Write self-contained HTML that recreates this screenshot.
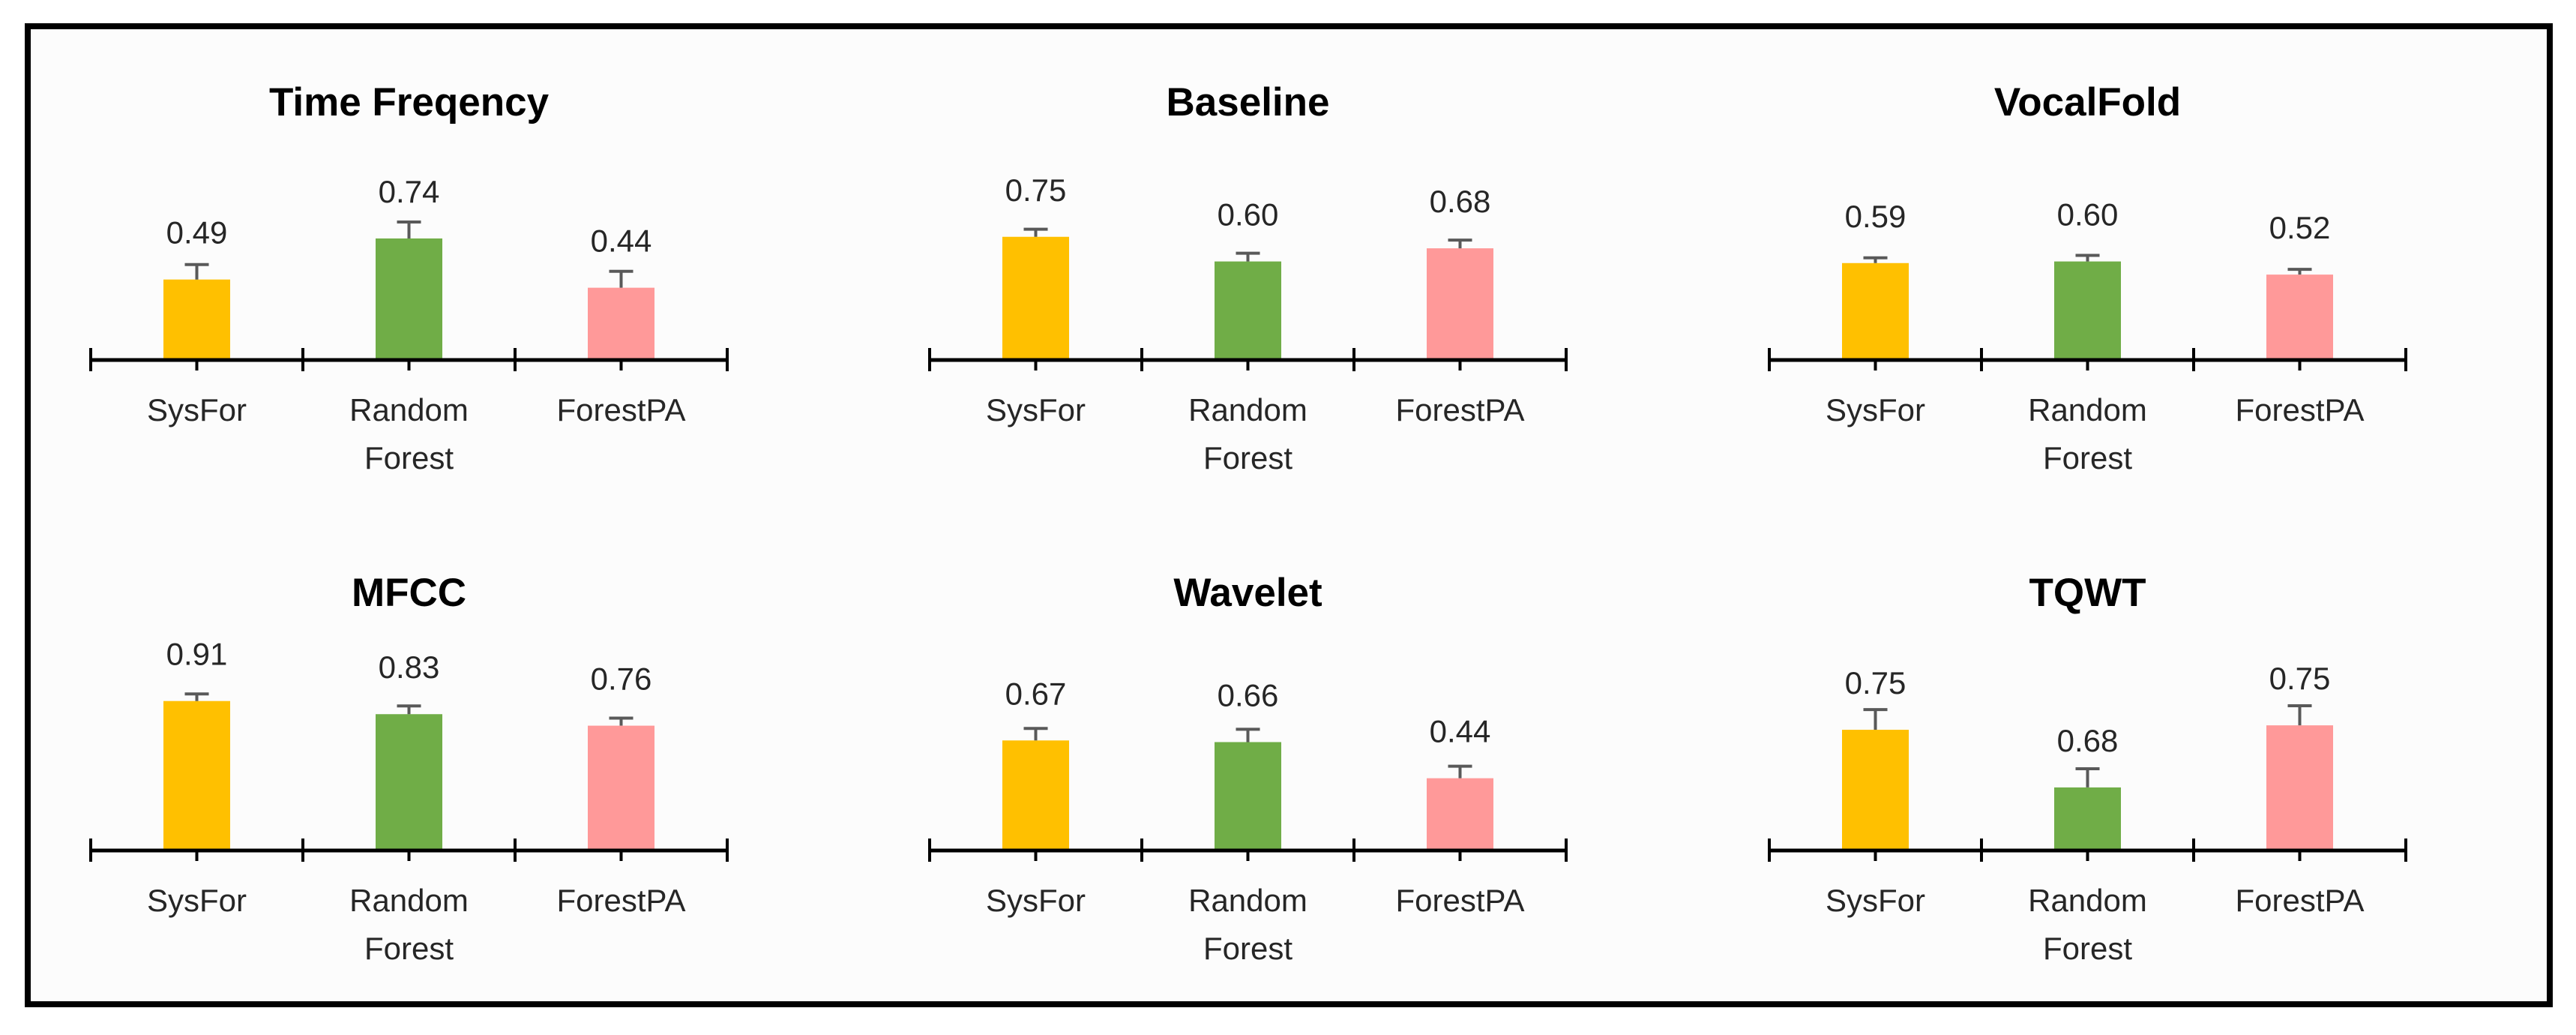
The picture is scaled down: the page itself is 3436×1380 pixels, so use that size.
<!DOCTYPE html>
<html><head><meta charset="utf-8"><style>
html,body{margin:0;padding:0;background:#fff;}
svg{display:block;}
text{font-family:"Liberation Sans",sans-serif;}
</style></head><body>
<svg id="chart" width="3436" height="1380" viewBox="0 0 3436 1380" xmlns="http://www.w3.org/2000/svg">
<rect x="37" y="35" width="3364" height="1304" fill="#fcfcfc" stroke="#000" stroke-width="8"/>
<g id="panels"></g>
</svg>
<script>
const panelTitles = ["Time Freqency","Baseline","VocalFold","MFCC","Wavelet","TQWT"];
const categories = ["SysFor","Random Forest","ForestPA"];
const barValues = [
  [0.49,0.74,0.44],
  [0.75,0.60,0.68],
  [0.59,0.60,0.52],
  [0.91,0.83,0.76],
  [0.67,0.66,0.44],
  [0.735,0.384,0.762]
];
const labelValues = [
  [0.49,0.74,0.44],
  [0.75,0.60,0.68],
  [0.59,0.60,0.52],
  [0.91,0.83,0.76],
  [0.67,0.66,0.44],
  [0.75,0.68,0.75]
];
const errValues = [
  [0.091,0.10,0.10],
  [0.046,0.050,0.050],
  [0.032,0.037,0.032],
  [0.043,0.050,0.046],
  [0.073,0.078,0.073],
  [0.123,0.114,0.119]
];
const colors = ["#FFC000","#70AD47","#FF9999"];

const NS = "http://www.w3.org/2000/svg";
const root = document.getElementById("panels");
const colX = [121,1240,2360];
const rowY = [480,1134];
const axisW = 849;
const pxPerUnit = 219;
function mk(tag, attrs, parent){
  const e = document.createElementNS(NS, tag);
  for (const k in attrs) e.setAttribute(k, attrs[k]);
  parent.appendChild(e);
  return e;
}
function slug(s){return s.toLowerCase().replace(/[^a-z0-9]+/g,'-').replace(/^-|-$/g,'');}

panelTitles.forEach((title, p) => {
  const x0 = colX[p % 3], y0 = rowY[Math.floor(p / 3)];
  const catW = axisW / categories.length;
  const xCenter = i => x0 + catW * (i + 0.5);
  const yScale = v => y0 - v * pxPerUnit;
  const g = mk("g", {}, root);
  
  

  const t = mk("text", {x: x0 + axisW/2, y: y0 - 326, "text-anchor":"middle", "font-size":53, "font-weight":"bold", fill:"#000"}, g);
  t.textContent = title;
  
  

  categories.forEach((c, i) => {
    const cx = xCenter(i);
    const v = barValues[p][i];
    const top = yScale(v);
    const bar = mk("rect", {x: cx - 44.5, y: top, width: 89, height: y0 - top, fill: colors[i]}, g);
    
    

    const capY = yScale(v + errValues[p][i]);
    const eb = mk("path", {d: `M${cx} ${top} V${capY} M${cx-16} ${capY} H${cx+16}`, stroke:"#595959", "stroke-width":4, fill:"none"}, g);
    
    

    const lbl = mk("text", {x: cx, y: top - 48, "text-anchor":"middle", "font-size":42, fill:"#262626"}, g);
    lbl.textContent = labelValues[p][i].toFixed(2);
    
    

    const words = c.split(" ");
    words.forEach((w, k) => {
      const ct = mk("text", {x: cx, y: y0 + 81 + k * 64, "text-anchor":"middle", "font-size":42, fill:"#262626"}, g);
      ct.textContent = w;
      
      
    });

    const tk = mk("line", {x1: cx, x2: cx, y1: y0, y2: y0 + 14, stroke:"#000", "stroke-width":4}, g);
    
    
  });

  const ax = mk("line", {x1: x0, x2: x0 + axisW, y1: y0, y2: y0, stroke:"#000", "stroke-width":5}, g);
  
  
  for (let i = 0; i <= categories.length; i++) {
    const dx = x0 + catW * i;
    const d = mk("line", {x1: dx, x2: dx, y1: y0 - 16, y2: y0 + 15, stroke:"#000", "stroke-width":4}, g);
    
    
  }
});
</script>
</body></html>
